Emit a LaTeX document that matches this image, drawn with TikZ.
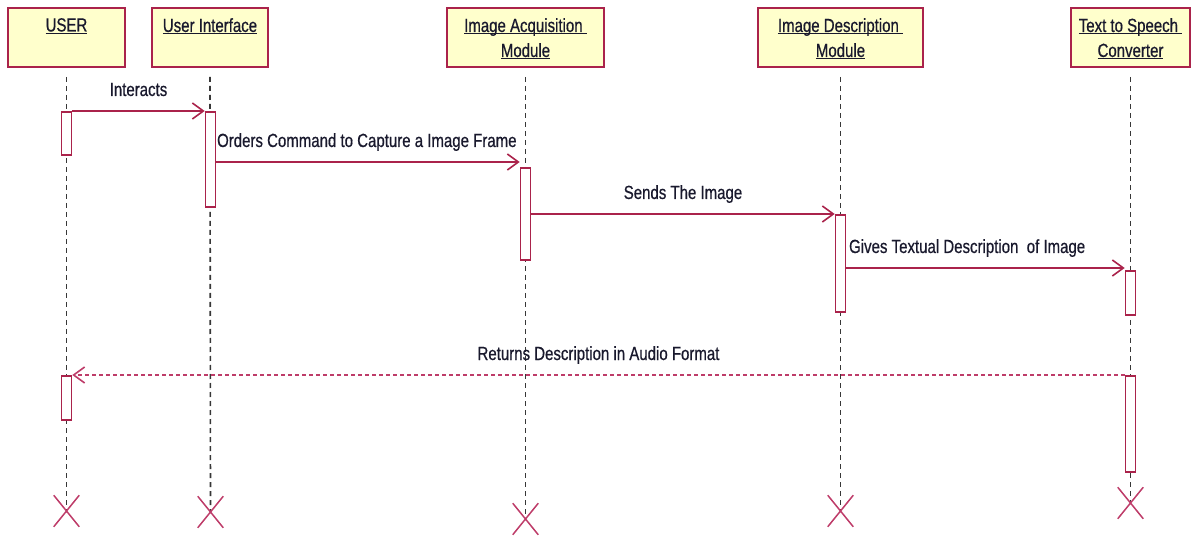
\documentclass[tikz,border=0pt]{standalone}
\usepackage{fontspec}
\setmainfont[FakeStretch=0.79,FakeBold=0.6]{Liberation Sans}
\usetikzlibrary{arrows.meta,shapes.misc}
\definecolor{umlred}{RGB}{170,35,75}
\definecolor{umlpink}{RGB}{190,60,105}
\definecolor{umlfill}{RGB}{255,255,204}
\definecolor{umltext}{RGB}{25,25,45}
\definecolor{lifegray}{RGB}{55,55,55}
\newcommand\hdul[1]{\setbox0\hbox{#1}\rlap{\rule[-2.5pt]{\wd0}{1.1pt}}\box0}
\begin{document}
\begin{tikzpicture}[x=1pt,y=-1pt,
  font=\fontsize{19}{25}\selectfont,
  headbox/.style={draw=umlred, fill=umlfill, line width=2pt, minimum height=59pt, inner sep=0pt},
  headtext/.style={anchor=north, align=center, inner sep=0pt, text=umltext},
  life/.style={draw=lifegray, line width=1.6pt, dash pattern=on 5pt off 4pt},
  act/.style={draw=umlred, fill=white, line width=1.6pt, minimum width=10pt, inner sep=0pt, anchor=north},
  destroy/.style={cross out, draw=umlpink, line width=1.5pt, minimum width=24pt, minimum height=30pt, inner sep=0pt},
  msg/.style={draw=umlred, line width=1.6pt, -{Straight Barb[length=11pt,width=16pt]}},
  ret/.style={draw=umlpink, line width=1.6pt, dash pattern=on 4pt off 3pt, -{Straight Barb[length=11pt,width=16pt]}},
  lbl/.style={inner sep=0pt, text=umltext, anchor=base, yshift=15pt}
]
\useasboundingbox (0,0) rectangle (1194,537);

% header boxes
\node[headbox, minimum width=117pt] (user) at (66.5,37.5) {};
\node[headbox, minimum width=116pt] (ui) at (210,37.5) {};
\node[headbox, minimum width=157pt] (ia) at (525.5,37.5) {};
\node[headbox, minimum width=165pt] (id) at (840.5,37.5) {};
\node[headbox, minimum width=119pt] (tts) at (1130.5,37.5) {};

\node[headtext] (userl) at ([yshift=-11pt]user.north) {\hdul{USER}};
\node[headtext] (uil) at ([yshift=-11pt]ui.north) {\hdul{User Interface}};
\node[headtext] (ial) at ([yshift=-11pt]ia.north) {\hdul{Image Acquisition\ }\\\hdul{Module}};
\node[headtext] (idl) at ([yshift=-11pt]id.north) {\hdul{Image Description\ }\\\hdul{Module}};
\node[headtext] (ttsl) at ([yshift=-11pt]tts.north) {\hdul{Text to Speech\ }\\\hdul{Converter}};

% destroy marks
\coordinate (userx) at (66.5,511);
\coordinate (uix) at (210.5,512);
\coordinate (iax) at (525.5,519);
\coordinate (idx) at (840.5,511);
\coordinate (ttsx) at (1130.5,503);

% lifelines
\draw[life] ([yshift=-9pt]user.south) -- (userx);
\draw[life] ([yshift=-9pt]ui.south) -- (uix);
\draw[life] ([yshift=-9pt]ia.south) -- (iax);
\draw[life] ([yshift=-9pt]id.south) -- (idx);
\draw[life] ([yshift=-9pt]tts.south) -- (ttsx);

\node[destroy] (userd) at (userx) {};
\node[destroy] (uid) at (uix) {};
\node[destroy] (iad) at (iax) {};
\node[destroy] (idd) at (idx) {};
\node[destroy] (ttsd) at (ttsx) {};

% activations
\node[act, minimum height=43pt] (ua1) at (66.5,111) {};
\node[act, minimum height=95pt] (uia1) at (210.5,111) {};
\node[act, minimum height=92pt] (iaa1) at (525.5,167) {};
\node[act, minimum height=97pt] (ida1) at (840.5,214) {};
\node[act, minimum height=44pt] (tta1) at (1130.5,270) {};
\node[act, minimum height=44pt] (ua2) at (66.5,375) {};
\node[act, minimum height=96pt] (tta2) at (1130.5,375) {};

% message levels
\coordinate (m2) at (0,162);
\coordinate (m4) at (0,268);

% messages
\draw[msg] (ua1.north east) -- node[lbl, pos=0.5] (l1) {Interacts} (uia1.north west);
\draw[msg] (uia1.east |- m2) -- node[lbl, pos=0, anchor=base west] (l2) {Orders Command to Capture a Image Frame} (iaa1.west |- m2);
\draw[msg] (iaa1.east |- ida1.north) -- node[lbl, pos=0.5] (l3) {Sends The Image} (ida1.north west);
\draw[msg] (ida1.east |- m4) -- node[lbl, pos=0, anchor=base west, xshift=2pt] (l4) {Gives Textual Description\ \ of Image} (tta1.west |- m4);
\draw[ret] (tta2.north west) -- node[lbl, pos=0.5] (l5) {Returns Description in Audio Format} (ua2.north east);
\end{tikzpicture}
\end{document}
